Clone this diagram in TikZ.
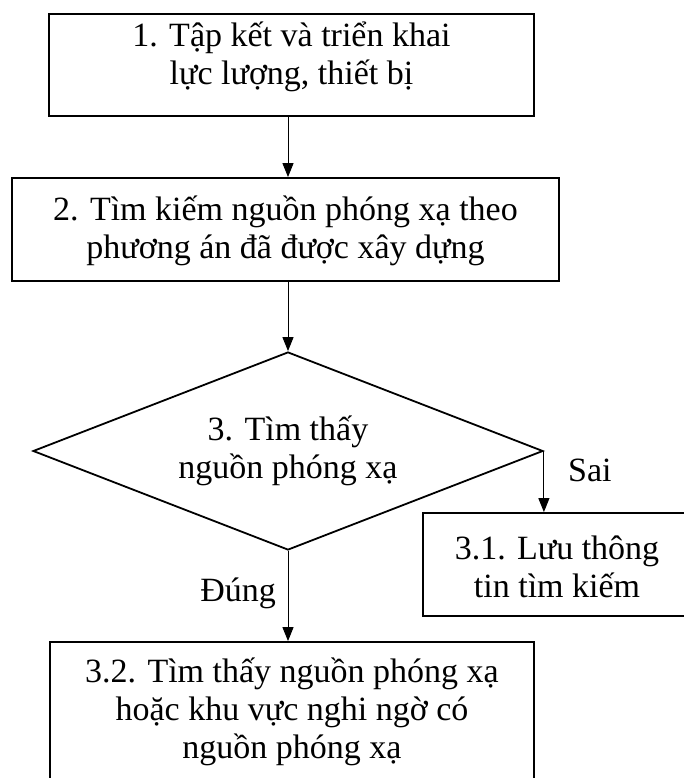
\documentclass[tikz,border=0pt]{standalone}
\usepackage{fontspec}
\setmainfont{Liberation Serif}
\usetikzlibrary{shapes.geometric,arrows.meta}
\begin{document}
\begin{tikzpicture}[x=1pt,y=-1pt,
  txt/.style={font=\fontsize{34}{38}\selectfont},
  box/.style={txt,draw,line width=1.8pt,inner sep=0pt,align=center,text depth=0pt},
  arr/.style={line width=1pt,-{Triangle[length=14pt,width=11pt]}},
  lbl/.style={txt,inner sep=0pt}]
\useasboundingbox (0,0) rectangle (684,778);
\node[box,text height=40pt,minimum width=485pt,minimum height=102pt] (b1) at (291.5,65) {1. Tập kết và triển khai\\lực lượng, thiết bị};
\node[box,text height=57pt,minimum width=547pt,minimum height=103pt] (b2) at (285.5,229.5) {2. Tìm kiếm nguồn phóng xạ theo\\phương án đã được xây dựng};
\node[box,text height=54pt,shape=diamond,shape aspect=2.58,minimum width=510pt,minimum height=198pt] (d) at (288,451) {3. Tìm thấy\\nguồn phóng xạ};
\node[box,text height=65pt,minimum width=268pt,minimum height=103pt] (b31) at (557,564.5) {3.1. Lưu thông\\tin tìm kiếm};
\node[box,text height=74pt,minimum width=484pt,minimum height=158pt] (b32) at (292,721) {3.2. Tìm thấy nguồn phóng xạ\\hoặc khu vực nghi ngờ có\\nguồn phóng xạ};
\draw[arr] (b1.south -| d.north) -- (b2.north -| d.north);
\draw[arr] (b2.south -| d.north) -- (d.north);
\draw[arr] (d.east) -- (d.east |- b31.north);
\draw[arr] (d.south) -- (d.south |- b32.north);
\node[lbl,anchor=base west] (sai) at (568,481) {Sai};
\node[lbl,anchor=base east] (dung) at (276,601) {Đúng};
\end{tikzpicture}
\end{document}
